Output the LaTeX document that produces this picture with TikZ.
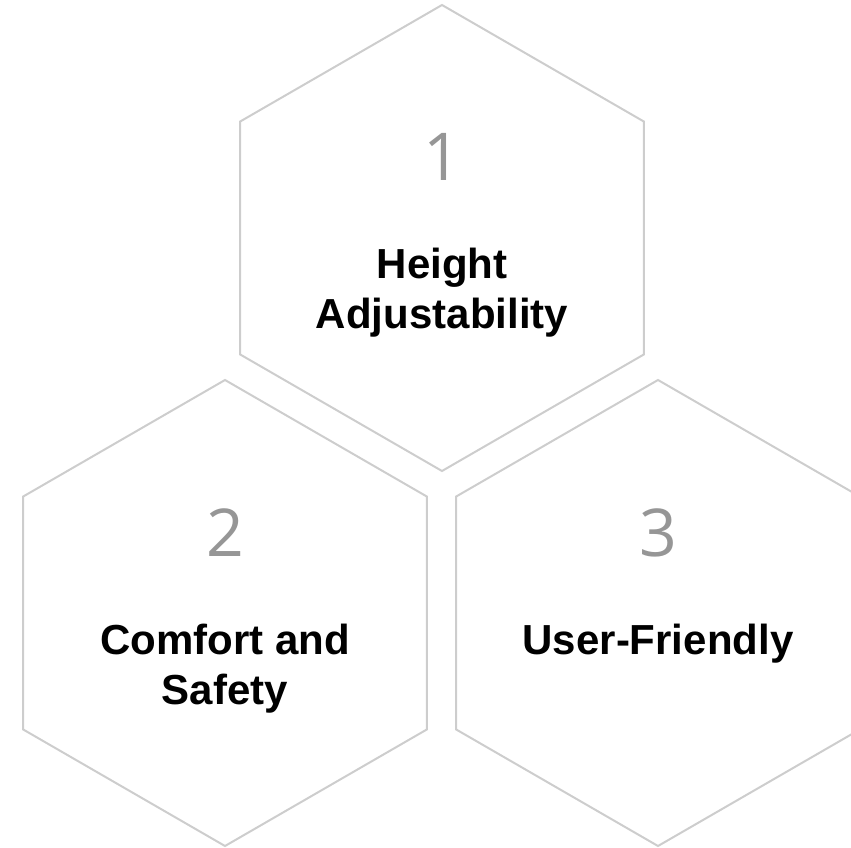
\documentclass[tikz,border=0pt]{standalone}
\usepackage{fontspec}
\setmainfont{Liberation Sans}
\newfontfamily\numfont{Open Sans}
\definecolor{linhacinza}{RGB}{205,205,205}
\definecolor{numcinza}{RGB}{150,150,150}
\begin{document}
\begin{tikzpicture}[x=1pt, y=1pt,
  hexline/.style={draw=linhacinza, line width=2pt, line join=miter},
  numlabel/.style={anchor=base, text=numcinza, inner sep=0pt,
    font=\numfont\fontsize{66}{70}\selectfont},
  textlabel/.style={anchor=base, align=center, inner sep=0pt,
    font=\bfseries\fontsize{42}{50}\selectfont}]
  \useasboundingbox (0,0) rectangle (851,847);
  \clip (0,0) rectangle (851,847);

  % Centros
  \coordinate (H1) at (442,609);
  \coordinate (H2) at (225,234);
  \coordinate (H3) at (658,234);

  % Hexagonos
  \foreach \c in {H1,H2,H3}
    \draw[hexline, shift={(\c)}] (90:233) -- (150:233) -- (210:233)
      -- (270:233) -- (330:233) -- (30:233) -- cycle;

  % Numeros
  \node[numlabel] (n1) at ([yshift=57pt]H1) {1};
  \node[numlabel] (n2) at ([yshift=57pt]H2) {2};
  \node[numlabel] (n3) at ([yshift=57pt]H3) {3};

  % Textos (base = ultima linha)
  \node[textlabel] (t1) at ([yshift=-91pt]H1) {Height\\Adjustability};
  \node[textlabel] (t2) at ([yshift=-91pt]H2) {Comfort and\\Safety};
  \node[textlabel] (t3) at ([yshift=-41pt]H3) {User-Friendly};
\end{tikzpicture}
\end{document}
